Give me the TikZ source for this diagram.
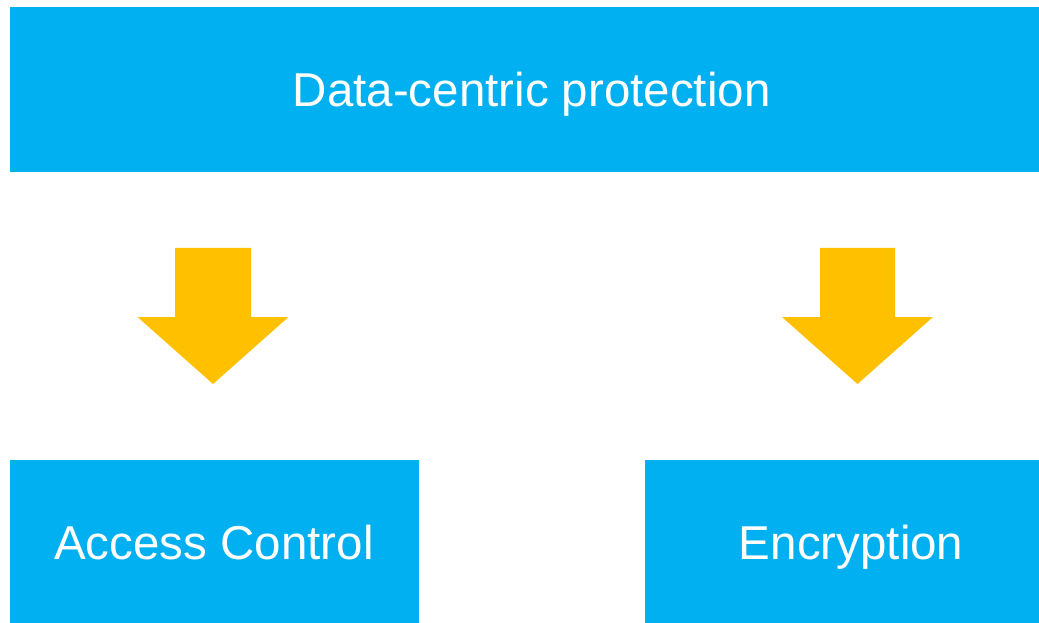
\documentclass[tikz,border=0pt]{standalone}
\usepackage{fontspec}
\setmainfont{Liberation Sans}
\definecolor{boxblue}{HTML}{00B0F0}
\definecolor{arrowyellow}{HTML}{FFC000}
\begin{document}
\begin{tikzpicture}[x=1bp,y=-1bp,
  bluebox/.style={fill=boxblue,draw=none,inner sep=0pt,outer sep=0pt},
  label/.style={text=white,font=\fontsize{47.5bp}{50bp}\selectfont,anchor=base,inner sep=0pt},
  downarrow/.style={fill=arrowyellow,draw=none}]
\useasboundingbox (0,0) rectangle (1039,623);
% boxes
\node[bluebox,minimum width=1029bp,minimum height=165bp] (top) at (524.5,89.5) {};
\node[bluebox,minimum width=409bp,minimum height=163bp] (left) at (214.5,541.5) {};
\node[bluebox,minimum width=394bp,minimum height=163bp] (right) at (842,541.5) {};
% texts
\node[label] (toptext) at (531.7,106.7) {Data-centric protection};
\node[label] (lefttext) at (214,559.3) {Access Control};
\node[label] (righttext) at (851.2,559.3) {Encryption};
% arrows
\fill[downarrow] (175,248) -- (251,248) -- (251,317) -- (288.5,317) -- (213,384) -- (137.5,317) -- (175,317) -- cycle;
\fill[downarrow] (820,248) -- (895,248) -- (895,317) -- (933,317) -- (857.5,384) -- (782,317) -- (820,317) -- cycle;
\end{tikzpicture}
\end{document}
